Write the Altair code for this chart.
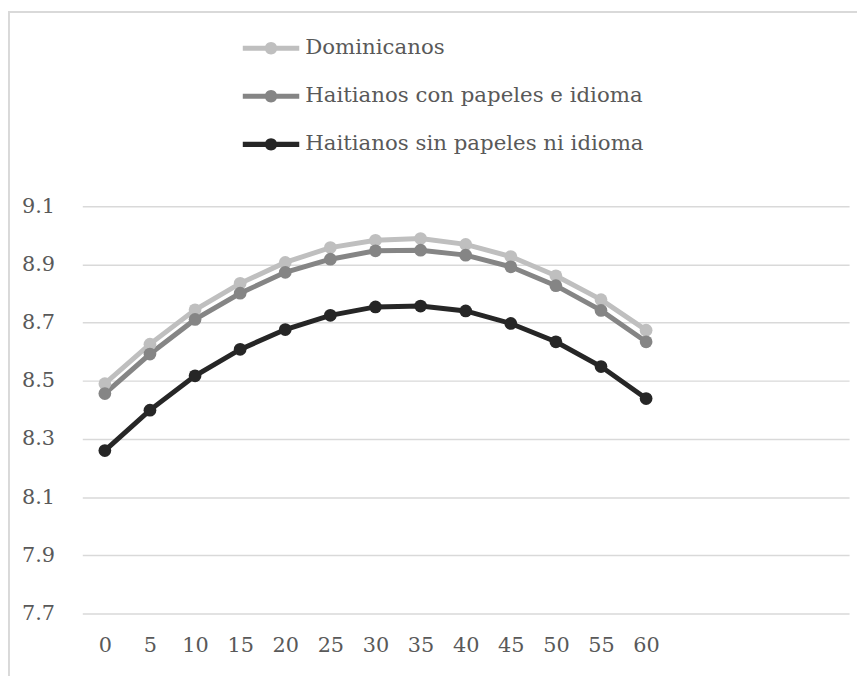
import altair as alt
import pandas as pd

edades = [0, 5, 10, 15, 20, 25, 30, 35, 40, 45, 50, 55, 60]
dominicanos = [8.49, 8.626, 8.744, 8.835, 8.907, 8.958, 8.983, 8.989, 8.969, 8.927, 8.861, 8.779, 8.674]
haitianos_con = [8.456, 8.592, 8.711, 8.801, 8.873, 8.918, 8.947, 8.949, 8.932, 8.892, 8.827, 8.742, 8.634]
haitianos_sin = [8.26, 8.399, 8.517, 8.608, 8.676, 8.725, 8.754, 8.757, 8.740, 8.697, 8.634, 8.549, 8.439]

series = ["Dominicanos", "Haitianos con papeles e idioma", "Haitianos sin papeles ni idioma"]
colores = ["#bfbfbf", "#858585", "#262626"]
y_ticks = [7.7, 7.9, 8.1, 8.3, 8.5, 8.7, 8.9, 9.1]

rows = []
for name, vals in zip(series, [dominicanos, haitianos_con, haitianos_sin]):
    for e, v in zip(edades, vals):
        rows.append({"edad": e, "valor": v, "serie": name})
df = pd.DataFrame(rows)

FONT = "DejaVu Serif"
TXT = "#595959"

x = alt.X("edad:Q", scale=alt.Scale(domain=[-2.5, 82.5], nice=False, zero=False),
          axis=alt.Axis(values=edades, title=None, grid=False, domain=False, ticks=False,
                        labelPadding=21, labelFlush=False))
y = alt.Y("valor:Q", scale=alt.Scale(domain=[7.7, 9.1], nice=False, zero=False),
          axis=alt.Axis(values=y_ticks, format=".1f", title=None, domain=False, ticks=False,
                        grid=True, gridColor="#d9d9d9", gridWidth=1.5, labelPadding=28))

sym = ("M-1,-0.09 H1 V0.09 H-1 Z "
       "M0.22,0 A0.22,0.22 0 1,1 -0.22,0 A0.22,0.22 0 1,1 0.22,0 Z")

leg = alt.Legend(title=None, orient="none", legendX=162, legendY=-188,
                 symbolType=sym, symbolSize=3249, symbolStrokeWidth=0,
                 labelOffset=6, rowPadding=9.5, padding=0, labelLimit=500)
cscale = alt.Scale(domain=series, range=colores)

lines = alt.Chart(df).mark_line(strokeWidth=5).encode(
    x=x, y=y,
    color=alt.Color("serie:N", scale=cscale, legend=leg),
    order="edad:Q",
)
points = alt.Chart(df).mark_circle(size=165, opacity=1).encode(
    x=x, y=y,
    color=alt.Color("serie:N", scale=cscale, legend=leg),
)

border_left = alt.Chart(df).mark_rule(color="#d9d9d9", strokeWidth=1.5).encode(
    x=alt.value(-74.5), y=alt.value(-196), y2=alt.value(480))
border_top = alt.Chart(df).mark_rule(color="#d9d9d9", strokeWidth=1.5).encode(
    x=alt.value(-75), x2=alt.value(800), y=alt.value(-196))

chart = alt.layer(border_left, border_top, lines, points).properties(
    width=774, height=411,
    autosize=alt.AutoSizeParams(type="none"),
    padding={"left": 75, "top": 197, "right": 8, "bottom": 60},
).configure(font=FONT).configure_view(stroke=None).configure_axis(
    labelFont=FONT, labelFontSize=21, labelColor=TXT
).configure_legend(
    labelFont=FONT, labelFontSize=21.5, labelColor=TXT
)

chart.save("out.html", embed_options={"renderer": "svg", "actions": False})
